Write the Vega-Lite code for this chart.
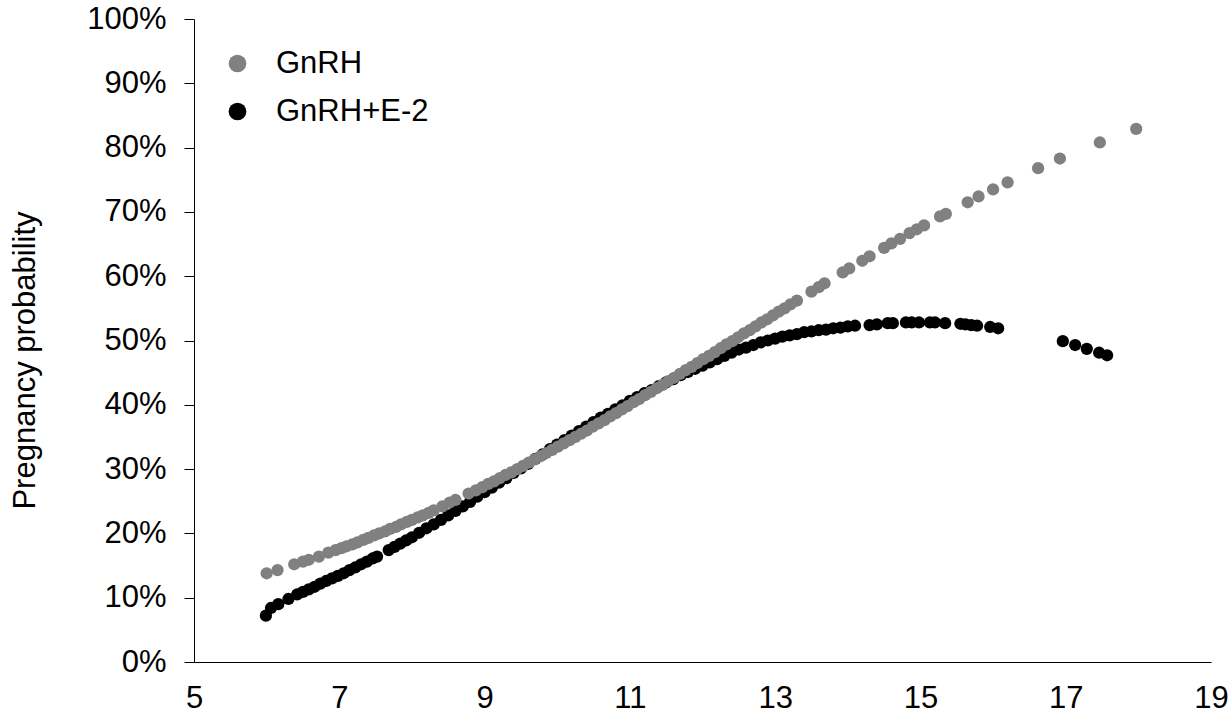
{
  "$schema": "https://vega.github.io/schema/vega-lite/v6.json",
  "width": 1017,
  "height": 643,
  "autosize": "none",
  "padding": {"left": 194, "top": 19, "right": 21, "bottom": 55},
  "background": "white",
  "config": {
    "view": {"stroke": null},
    "font": "Liberation Sans",
    "axis": {"grid": false, "domainColor": "black", "domainWidth": 1, "tickColor": "black", "labelColor": "black", "titleColor": "black", "labelFont": "Liberation Sans", "titleFont": "Liberation Sans"}
  },
  "data": {
    "values": [
      {"series": "GnRH+E-2", "x": 5.99, "p": 7.2},
      {"series": "GnRH+E-2", "x": 6.06, "p": 8.4},
      {"series": "GnRH+E-2", "x": 6.16, "p": 9.0},
      {"series": "GnRH+E-2", "x": 6.3, "p": 9.8},
      {"series": "GnRH+E-2", "x": 6.42, "p": 10.5},
      {"series": "GnRH+E-2", "x": 6.5, "p": 10.9},
      {"series": "GnRH+E-2", "x": 6.58, "p": 11.3},
      {"series": "GnRH+E-2", "x": 6.66, "p": 11.7},
      {"series": "GnRH+E-2", "x": 6.74, "p": 12.2},
      {"series": "GnRH+E-2", "x": 6.82, "p": 12.6},
      {"series": "GnRH+E-2", "x": 6.9, "p": 13.0},
      {"series": "GnRH+E-2", "x": 6.98, "p": 13.4},
      {"series": "GnRH+E-2", "x": 7.06, "p": 13.8},
      {"series": "GnRH+E-2", "x": 7.14, "p": 14.3},
      {"series": "GnRH+E-2", "x": 7.22, "p": 14.7},
      {"series": "GnRH+E-2", "x": 7.3, "p": 15.2},
      {"series": "GnRH+E-2", "x": 7.38, "p": 15.6},
      {"series": "GnRH+E-2", "x": 7.46, "p": 16.1},
      {"series": "GnRH+E-2", "x": 7.52, "p": 16.4},
      {"series": "GnRH+E-2", "x": 7.68, "p": 17.4},
      {"series": "GnRH+E-2", "x": 7.76, "p": 17.9},
      {"series": "GnRH+E-2", "x": 7.84, "p": 18.4},
      {"series": "GnRH+E-2", "x": 7.92, "p": 18.9},
      {"series": "GnRH+E-2", "x": 8.0, "p": 19.4},
      {"series": "GnRH+E-2", "x": 8.1, "p": 20.1},
      {"series": "GnRH+E-2", "x": 8.2, "p": 20.8},
      {"series": "GnRH+E-2", "x": 8.3, "p": 21.4},
      {"series": "GnRH+E-2", "x": 8.4, "p": 22.1},
      {"series": "GnRH+E-2", "x": 8.5, "p": 22.8},
      {"series": "GnRH+E-2", "x": 8.6, "p": 23.5},
      {"series": "GnRH+E-2", "x": 8.7, "p": 24.2},
      {"series": "GnRH+E-2", "x": 8.8, "p": 24.9},
      {"series": "GnRH+E-2", "x": 8.9, "p": 25.7},
      {"series": "GnRH+E-2", "x": 9.0, "p": 26.4},
      {"series": "GnRH+E-2", "x": 9.1, "p": 27.1},
      {"series": "GnRH+E-2", "x": 9.2, "p": 27.9},
      {"series": "GnRH+E-2", "x": 9.3, "p": 28.6},
      {"series": "GnRH+E-2", "x": 9.4, "p": 29.4},
      {"series": "GnRH+E-2", "x": 9.5, "p": 30.1},
      {"series": "GnRH+E-2", "x": 9.6, "p": 30.8},
      {"series": "GnRH+E-2", "x": 9.7, "p": 31.6},
      {"series": "GnRH+E-2", "x": 9.8, "p": 32.3},
      {"series": "GnRH+E-2", "x": 9.9, "p": 33.1},
      {"series": "GnRH+E-2", "x": 10.0, "p": 33.8},
      {"series": "GnRH+E-2", "x": 10.1, "p": 34.5},
      {"series": "GnRH+E-2", "x": 10.2, "p": 35.2},
      {"series": "GnRH+E-2", "x": 10.3, "p": 35.9},
      {"series": "GnRH+E-2", "x": 10.4, "p": 36.6},
      {"series": "GnRH+E-2", "x": 10.5, "p": 37.3},
      {"series": "GnRH+E-2", "x": 10.6, "p": 38.0},
      {"series": "GnRH+E-2", "x": 10.7, "p": 38.6},
      {"series": "GnRH+E-2", "x": 10.8, "p": 39.3},
      {"series": "GnRH+E-2", "x": 10.9, "p": 39.9},
      {"series": "GnRH+E-2", "x": 11.0, "p": 40.6},
      {"series": "GnRH+E-2", "x": 11.1, "p": 41.2},
      {"series": "GnRH+E-2", "x": 11.2, "p": 41.8},
      {"series": "GnRH+E-2", "x": 11.3, "p": 42.3},
      {"series": "GnRH+E-2", "x": 11.4, "p": 42.9},
      {"series": "GnRH+E-2", "x": 11.5, "p": 43.5},
      {"series": "GnRH+E-2", "x": 11.6, "p": 44.0},
      {"series": "GnRH+E-2", "x": 11.7, "p": 44.6},
      {"series": "GnRH+E-2", "x": 11.8, "p": 45.1},
      {"series": "GnRH+E-2", "x": 11.9, "p": 45.6},
      {"series": "GnRH+E-2", "x": 12.0, "p": 46.1},
      {"series": "GnRH+E-2", "x": 12.1, "p": 46.6},
      {"series": "GnRH+E-2", "x": 12.2, "p": 47.1},
      {"series": "GnRH+E-2", "x": 12.3, "p": 47.6},
      {"series": "GnRH+E-2", "x": 12.4, "p": 48.1},
      {"series": "GnRH+E-2", "x": 12.5, "p": 48.6},
      {"series": "GnRH+E-2", "x": 12.6, "p": 48.9},
      {"series": "GnRH+E-2", "x": 12.7, "p": 49.3},
      {"series": "GnRH+E-2", "x": 12.8, "p": 49.7},
      {"series": "GnRH+E-2", "x": 12.9, "p": 50.0},
      {"series": "GnRH+E-2", "x": 13.0, "p": 50.3},
      {"series": "GnRH+E-2", "x": 13.1, "p": 50.6},
      {"series": "GnRH+E-2", "x": 13.2, "p": 50.8},
      {"series": "GnRH+E-2", "x": 13.3, "p": 51.0},
      {"series": "GnRH+E-2", "x": 13.4, "p": 51.3},
      {"series": "GnRH+E-2", "x": 13.5, "p": 51.4},
      {"series": "GnRH+E-2", "x": 13.6, "p": 51.6},
      {"series": "GnRH+E-2", "x": 13.7, "p": 51.7},
      {"series": "GnRH+E-2", "x": 13.8, "p": 51.9},
      {"series": "GnRH+E-2", "x": 13.9, "p": 52.0},
      {"series": "GnRH+E-2", "x": 14.0, "p": 52.2},
      {"series": "GnRH+E-2", "x": 14.1, "p": 52.3},
      {"series": "GnRH+E-2", "x": 14.3, "p": 52.4},
      {"series": "GnRH+E-2", "x": 14.4, "p": 52.5},
      {"series": "GnRH+E-2", "x": 14.55, "p": 52.7},
      {"series": "GnRH+E-2", "x": 14.62, "p": 52.7},
      {"series": "GnRH+E-2", "x": 14.8, "p": 52.8},
      {"series": "GnRH+E-2", "x": 14.88, "p": 52.8},
      {"series": "GnRH+E-2", "x": 14.98, "p": 52.8},
      {"series": "GnRH+E-2", "x": 15.13, "p": 52.8},
      {"series": "GnRH+E-2", "x": 15.2, "p": 52.8},
      {"series": "GnRH+E-2", "x": 15.34, "p": 52.7},
      {"series": "GnRH+E-2", "x": 15.55, "p": 52.6},
      {"series": "GnRH+E-2", "x": 15.62, "p": 52.5},
      {"series": "GnRH+E-2", "x": 15.7, "p": 52.4},
      {"series": "GnRH+E-2", "x": 15.78, "p": 52.3},
      {"series": "GnRH+E-2", "x": 15.96, "p": 52.1},
      {"series": "GnRH+E-2", "x": 16.07, "p": 51.9},
      {"series": "GnRH+E-2", "x": 16.96, "p": 49.9},
      {"series": "GnRH+E-2", "x": 17.13, "p": 49.3},
      {"series": "GnRH+E-2", "x": 17.29, "p": 48.7},
      {"series": "GnRH+E-2", "x": 17.46, "p": 48.1},
      {"series": "GnRH+E-2", "x": 17.57, "p": 47.7},
      {"series": "GnRH", "x": 6.0, "p": 13.8},
      {"series": "GnRH", "x": 6.15, "p": 14.3},
      {"series": "GnRH", "x": 6.38, "p": 15.2},
      {"series": "GnRH", "x": 6.5, "p": 15.6},
      {"series": "GnRH", "x": 6.58, "p": 15.9},
      {"series": "GnRH", "x": 6.72, "p": 16.4},
      {"series": "GnRH", "x": 6.85, "p": 17.0},
      {"series": "GnRH", "x": 6.95, "p": 17.4},
      {"series": "GnRH", "x": 7.03, "p": 17.7},
      {"series": "GnRH", "x": 7.1, "p": 18.0},
      {"series": "GnRH", "x": 7.18, "p": 18.3},
      {"series": "GnRH", "x": 7.25, "p": 18.6},
      {"series": "GnRH", "x": 7.33, "p": 19.0},
      {"series": "GnRH", "x": 7.4, "p": 19.3},
      {"series": "GnRH", "x": 7.48, "p": 19.7},
      {"series": "GnRH", "x": 7.55, "p": 20.0},
      {"series": "GnRH", "x": 7.63, "p": 20.3},
      {"series": "GnRH", "x": 7.7, "p": 20.7},
      {"series": "GnRH", "x": 7.78, "p": 21.0},
      {"series": "GnRH", "x": 7.85, "p": 21.4},
      {"series": "GnRH", "x": 7.93, "p": 21.8},
      {"series": "GnRH", "x": 8.0, "p": 22.1},
      {"series": "GnRH", "x": 8.08, "p": 22.5},
      {"series": "GnRH", "x": 8.15, "p": 22.8},
      {"series": "GnRH", "x": 8.23, "p": 23.2},
      {"series": "GnRH", "x": 8.3, "p": 23.6},
      {"series": "GnRH", "x": 8.42, "p": 24.2},
      {"series": "GnRH", "x": 8.52, "p": 24.8},
      {"series": "GnRH", "x": 8.6, "p": 25.2},
      {"series": "GnRH", "x": 8.78, "p": 26.2},
      {"series": "GnRH", "x": 8.88, "p": 26.7},
      {"series": "GnRH", "x": 8.97, "p": 27.2},
      {"series": "GnRH", "x": 9.05, "p": 27.7},
      {"series": "GnRH", "x": 9.13, "p": 28.1},
      {"series": "GnRH", "x": 9.21, "p": 28.6},
      {"series": "GnRH", "x": 9.29, "p": 29.1},
      {"series": "GnRH", "x": 9.37, "p": 29.5},
      {"series": "GnRH", "x": 9.45, "p": 30.0},
      {"series": "GnRH", "x": 9.53, "p": 30.5},
      {"series": "GnRH", "x": 9.61, "p": 31.0},
      {"series": "GnRH", "x": 9.69, "p": 31.5},
      {"series": "GnRH", "x": 9.77, "p": 32.0},
      {"series": "GnRH", "x": 9.85, "p": 32.5},
      {"series": "GnRH", "x": 9.93, "p": 33.0},
      {"series": "GnRH", "x": 10.01, "p": 33.5},
      {"series": "GnRH", "x": 10.09, "p": 34.0},
      {"series": "GnRH", "x": 10.17, "p": 34.5},
      {"series": "GnRH", "x": 10.25, "p": 35.0},
      {"series": "GnRH", "x": 10.33, "p": 35.5},
      {"series": "GnRH", "x": 10.41, "p": 36.0},
      {"series": "GnRH", "x": 10.49, "p": 36.6},
      {"series": "GnRH", "x": 10.57, "p": 37.1},
      {"series": "GnRH", "x": 10.65, "p": 37.6},
      {"series": "GnRH", "x": 10.73, "p": 38.2},
      {"series": "GnRH", "x": 10.81, "p": 38.7},
      {"series": "GnRH", "x": 10.89, "p": 39.3},
      {"series": "GnRH", "x": 10.97, "p": 39.8},
      {"series": "GnRH", "x": 11.05, "p": 40.4},
      {"series": "GnRH", "x": 11.13, "p": 40.9},
      {"series": "GnRH", "x": 11.21, "p": 41.5},
      {"series": "GnRH", "x": 11.29, "p": 42.0},
      {"series": "GnRH", "x": 11.37, "p": 42.6},
      {"series": "GnRH", "x": 11.45, "p": 43.1},
      {"series": "GnRH", "x": 11.53, "p": 43.7},
      {"series": "GnRH", "x": 11.61, "p": 44.2},
      {"series": "GnRH", "x": 11.69, "p": 44.8},
      {"series": "GnRH", "x": 11.77, "p": 45.4},
      {"series": "GnRH", "x": 11.85, "p": 45.9},
      {"series": "GnRH", "x": 11.93, "p": 46.5},
      {"series": "GnRH", "x": 12.01, "p": 47.1},
      {"series": "GnRH", "x": 12.09, "p": 47.6},
      {"series": "GnRH", "x": 12.17, "p": 48.2},
      {"series": "GnRH", "x": 12.25, "p": 48.8},
      {"series": "GnRH", "x": 12.33, "p": 49.4},
      {"series": "GnRH", "x": 12.41, "p": 49.9},
      {"series": "GnRH", "x": 12.49, "p": 50.5},
      {"series": "GnRH", "x": 12.57, "p": 51.1},
      {"series": "GnRH", "x": 12.65, "p": 51.6},
      {"series": "GnRH", "x": 12.73, "p": 52.2},
      {"series": "GnRH", "x": 12.81, "p": 52.8},
      {"series": "GnRH", "x": 12.89, "p": 53.3},
      {"series": "GnRH", "x": 12.97, "p": 53.9},
      {"series": "GnRH", "x": 13.05, "p": 54.5},
      {"series": "GnRH", "x": 13.13, "p": 55.0},
      {"series": "GnRH", "x": 13.21, "p": 55.6},
      {"series": "GnRH", "x": 13.3, "p": 56.2},
      {"series": "GnRH", "x": 13.5, "p": 57.6},
      {"series": "GnRH", "x": 13.6, "p": 58.3},
      {"series": "GnRH", "x": 13.68, "p": 58.9},
      {"series": "GnRH", "x": 13.93, "p": 60.6},
      {"series": "GnRH", "x": 14.02, "p": 61.2},
      {"series": "GnRH", "x": 14.2, "p": 62.4},
      {"series": "GnRH", "x": 14.3, "p": 63.1},
      {"series": "GnRH", "x": 14.5, "p": 64.4},
      {"series": "GnRH", "x": 14.6, "p": 65.1},
      {"series": "GnRH", "x": 14.72, "p": 65.8},
      {"series": "GnRH", "x": 14.85, "p": 66.7},
      {"series": "GnRH", "x": 14.95, "p": 67.3},
      {"series": "GnRH", "x": 15.05, "p": 67.9},
      {"series": "GnRH", "x": 15.27, "p": 69.3},
      {"series": "GnRH", "x": 15.35, "p": 69.7},
      {"series": "GnRH", "x": 15.65, "p": 71.5},
      {"series": "GnRH", "x": 15.8, "p": 72.4},
      {"series": "GnRH", "x": 16.0, "p": 73.5},
      {"series": "GnRH", "x": 16.2, "p": 74.6},
      {"series": "GnRH", "x": 16.62, "p": 76.8},
      {"series": "GnRH", "x": 16.92, "p": 78.3},
      {"series": "GnRH", "x": 17.47, "p": 80.8},
      {"series": "GnRH", "x": 17.97, "p": 82.9}
    ]
  },
  "mark": {"type": "point", "filled": true, "shape": "circle", "size": 150, "opacity": 1, "strokeWidth": 0},
  "encoding": {
    "x": {
      "field": "x",
      "type": "quantitative",
      "scale": {"domain": [5, 19], "nice": false, "zero": false},
      "axis": {"title": null, "values": [5, 7, 9, 11, 13, 15, 17, 19], "ticks": false, "labelFontSize": 31, "labelPadding": 21, "labelFlush": false}
    },
    "y": {
      "field": "p",
      "type": "quantitative",
      "scale": {"domain": [0, 100], "nice": false},
      "axis": {
        "title": "Pregnancy probability",
        "values": [0, 10, 20, 30, 40, 50, 60, 70, 80, 90, 100],
        "labelExpr": "datum.value + '%'",
        "labelFontSize": 31,
        "labelPadding": 18,
        "tickSize": 10,
        "labelFlush": false,
        "titleFontSize": 31,
        "titleFontWeight": "normal",
        "titlePadding": 45,
        "titleY": 341
      }
    },
    "color": {
      "field": "series",
      "type": "nominal",
      "scale": {"domain": ["GnRH", "GnRH+E-2"], "range": ["#808080", "#000000"]},
      "legend": {
        "title": null,
        "orient": "none",
        "legendX": 28,
        "legendY": 29,
        "padding": 0,
        "symbolType": "circle",
        "symbolSize": 314,
        "symbolStrokeWidth": 0,
        "labelFontSize": 31,
        "labelColor": "black",
        "labelFont": "Liberation Sans",
        "labelOffset": 23,
        "rowPadding": 16
      }
    }
  }
}
